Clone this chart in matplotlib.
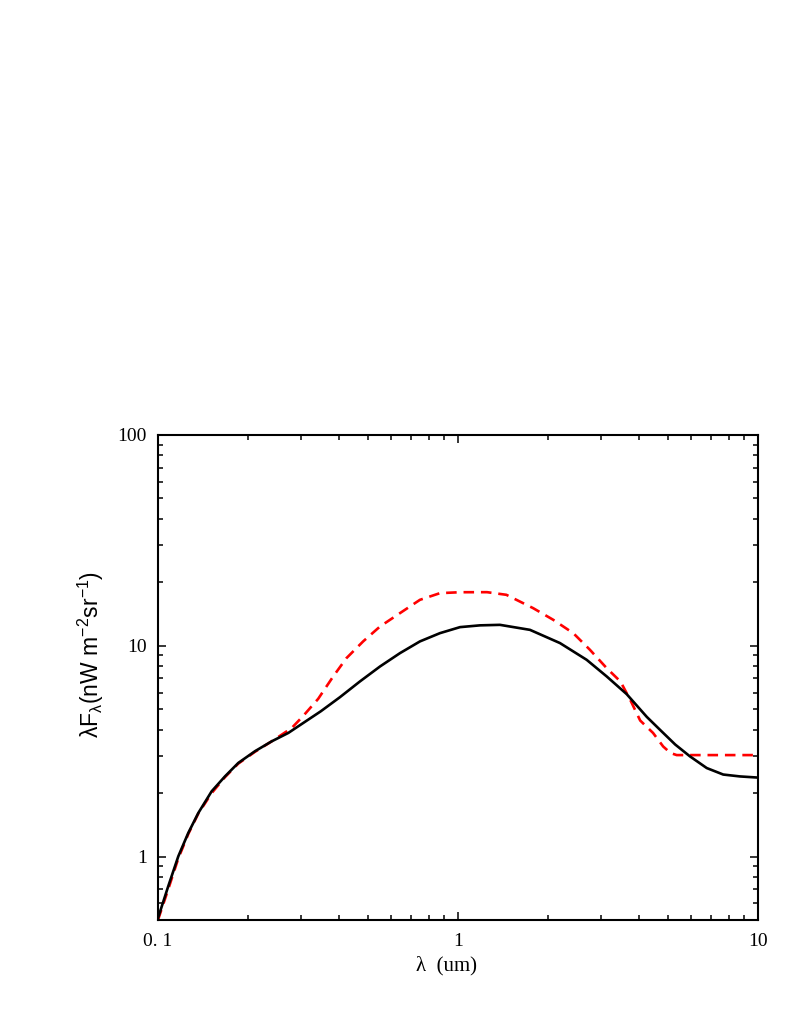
import matplotlib
matplotlib.use("Agg")
import matplotlib.pyplot as plt
from matplotlib.ticker import FixedLocator, FixedFormatter, LogLocator, NullFormatter

# wavelength (um) and lambda*F_lambda (nW m^-2 sr^-1)
wl_black = [0.1, 0.1082, 0.1169, 0.1262, 0.1363, 0.151, 0.1672, 0.1852, 0.2105, 0.2393,
            0.272, 0.301, 0.349, 0.404, 0.471, 0.55, 0.641, 0.747, 0.871, 1.016,
            1.184, 1.38, 1.738, 2.188, 2.685, 3.13, 3.65, 4.26, 4.71, 5.3,
            5.93, 6.75, 7.66, 8.71, 10.0]
flux_black = [0.51, 0.723, 1.003, 1.295, 1.61, 2.04, 2.40, 2.78, 3.16, 3.52,
              3.86, 4.25, 4.89, 5.70, 6.77, 7.98, 9.23, 10.49, 11.48, 12.26,
              12.5, 12.57, 11.9, 10.30, 8.58, 7.16, 5.9, 4.6, 4.0, 3.4,
              2.99, 2.63, 2.45, 2.40, 2.37]

wl_red = [0.1, 0.1082, 0.1169, 0.1262, 0.1363, 0.151, 0.1672, 0.1852, 0.2105, 0.2393,
          0.279, 0.305, 0.342, 0.384, 0.425, 0.483, 0.55, 0.641, 0.747, 0.871,
          1.016, 1.25, 1.45, 1.78, 2.078, 2.423, 2.754, 3.13, 3.48, 3.75,
          4.05, 4.47, 4.83, 5.11, 5.36, 10.0]
flux_red = [0.5, 0.70, 0.98, 1.28, 1.60, 2.0, 2.38, 2.76, 3.14, 3.52,
            4.07, 4.65, 5.6, 7.16, 8.74, 10.49, 12.35, 14.29, 16.52, 17.77,
            17.95, 17.96, 17.45, 15.09, 13.28, 11.48, 9.57, 7.84, 6.77, 5.55,
            4.42, 3.86, 3.33, 3.10, 3.03, 3.03]

xticks = [0.1, 1, 10]
xtick_labels = ["0. 1", "1", "10"]
yticks = [1, 10, 100]
ytick_labels = ["1", "10", "100"]

plt.rcParams['font.family'] = ['Liberation Serif', 'DejaVu Serif']
plt.rcParams['mathtext.fontset'] = 'custom'
plt.rcParams['mathtext.rm'] = 'Liberation Sans'
plt.rcParams['mathtext.it'] = 'Liberation Sans'
plt.rcParams['mathtext.default'] = 'regular'

fig = plt.figure(figsize=(7.97, 10.32), dpi=100)
ax = fig.add_axes([0.1982, 0.1085, 0.7528, 0.470])

ax.plot(wl_red, flux_red, color='red', lw=1.9, dashes=(4, 2.6))
ax.plot(wl_black, flux_black, color='black', lw=1.9)

ax.set_xscale('log')
ax.set_yscale('log')
ax.set_xlim(0.1, 10)
ax.set_ylim(0.5, 100)

ax.xaxis.set_major_locator(FixedLocator(xticks))
ax.xaxis.set_major_formatter(FixedFormatter(xtick_labels))
ax.yaxis.set_major_locator(FixedLocator(yticks))
ax.yaxis.set_major_formatter(FixedFormatter(ytick_labels))
ax.xaxis.set_minor_locator(LogLocator(base=10, subs=range(2, 10)))
ax.yaxis.set_minor_locator(LogLocator(base=10, subs=range(2, 10)))
ax.xaxis.set_minor_formatter(NullFormatter())
ax.yaxis.set_minor_formatter(NullFormatter())

ax.tick_params(which='both', direction='in', top=True, right=True, width=1.1,
               labelsize=14)
ax.tick_params(which='major', length=6)
ax.tick_params(axis='x', which='major', pad=9.5)
ax.tick_params(axis='y', which='major', pad=8)
ax.tick_params(which='minor', length=3.5)
for sp in ax.spines.values():
    sp.set_linewidth(1.5)

ax.set_xlabel("λ  (um)", fontsize=15, labelpad=4)
ax.xaxis.label.set_x(0.4817)
ax.set_ylabel(r"λF$_{λ}$(nW m$^{-2}$sr$^{-1}$)", fontfamily='Liberation Sans',
              fontsize=16.5, labelpad=8)
ax.yaxis.label.set_y(0.548)

fig.savefig("out.png", dpi=100)
